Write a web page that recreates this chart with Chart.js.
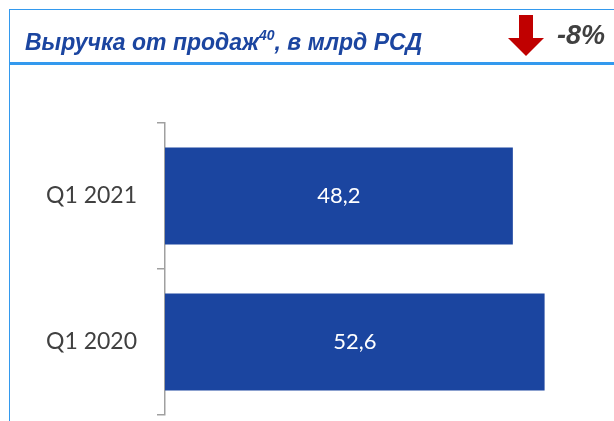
<!DOCTYPE html>
<html>
<head>
<meta charset="utf-8">
<script src="https://cdn.jsdelivr.net/npm/chart.js@4.4.1/dist/chart.umd.min.js"></script>
<style>
  html, body { margin: 0; padding: 0; background: #fff; }
  #wrap { position: relative; width: 614px; height: 421px; overflow: hidden; }
  #myChart { position: absolute; left: 0; top: 0; }
  .frame { position: absolute; left: 9px; top: 9px; width: 620px; height: 52px;
           border-top: 1px solid #3399ee; border-left: 1px solid #3399ee; border-bottom: 3px solid #3399ee; }
  .leftline { position: absolute; left: 9px; top: 9px; width: 1px; height: 420px; background: #3399ee; }
  .title { position: absolute; left: 25px; top: 25px; font: italic bold 23px "Liberation Sans", Arial, sans-serif;
           line-height: 23px; color: #1b45a0; white-space: nowrap; }
  .title sup { font-size: 14px; position: relative; top: -1px; }
  .delta { position: absolute; left: 557px; top: 22px; font: italic bold 27px "Liberation Sans", Arial, sans-serif;
           line-height: 27px; color: #404040; white-space: nowrap; }
  .shaft { position: absolute; left: 519px; top: 15px; width: 14px; height: 24px; background: #c00000; }
  .head { position: absolute; left: 508px; top: 38px; width: 0; height: 0;
          border-left: 18px solid transparent; border-right: 18px solid transparent; border-top: 18px solid #c00000; }
</style>
</head>
<body>
<div id="wrap">
  <canvas id="myChart" width="614" height="421"></canvas>
  <div class="frame"></div>
  <div class="leftline"></div>
  <div class="title">Выручка от продаж<sup>40</sup>, в млрд РСД</div>
  <div class="shaft"></div>
  <div class="head"></div>
  <div class="delta">-8%</div>
</div>
<script>
const categories = ['Q1 2021', 'Q1 2020'];
const revenue = [48.2, 52.6];
const revenueLabels = ['48,2', '52,6'];

const barColor = '#1b45a0';
const axisColor = '#a0a0a0';

const canvas = document.getElementById('myChart');

// подписи значений внутри столбцов
const barLabels = {
    id: 'barLabels',
    afterDatasetsDraw: chart => {
        const ctx = chart.ctx;
        ctx.save();
        ctx.fillStyle = '#ffffff';
        ctx.font = '22px Lato';
        ctx.textAlign = 'center';
        ctx.textBaseline = 'middle';
        chart.getDatasetMeta(0).data.forEach((bar, i) => {
            ctx.fillText(revenueLabels[i], (bar.x + bar.base) / 2, bar.y);
        });
        ctx.restore();
    }
};

const chart = new Chart(canvas, {
    type: 'bar',
    data: {
        labels: categories,
        datasets: [{
            data: revenue,
            backgroundColor: barColor,
            borderWidth: 0,
            barPercentage: 0.664,
            categoryPercentage: 1
        }]
    },
    options: {
        indexAxis: 'y',
        responsive: false,
        animation: false,
        devicePixelRatio: 1,
        layout: { padding: { top: 123, bottom: 6, left: 0, right: 16 } },
        plugins: {
            legend: { display: false },
            tooltip: { enabled: false },
            title: { display: false }
        },
        scales: {
            x: {
                display: false,
                min: 0,
                max: 60
            },
            y: {
                afterFit: scale => {
                    scale.width = 165;
                    scale.paddingTop = 0;
                    scale.paddingBottom = 0;
                },
                grid: {
                    display: true,
                    drawOnChartArea: false,
                    drawTicks: true,
                    tickLength: 8,
                    color: axisColor,
                    lineWidth: 1.5
                },
                border: { display: true, color: axisColor, width: 1.5 },
                ticks: {
                    padding: 20,
                    color: '#404040',
                    font: { family: 'Lato', size: 23 }
                }
            }
        }
    },
    plugins: [barLabels]
});
</script>
</body>
</html>
